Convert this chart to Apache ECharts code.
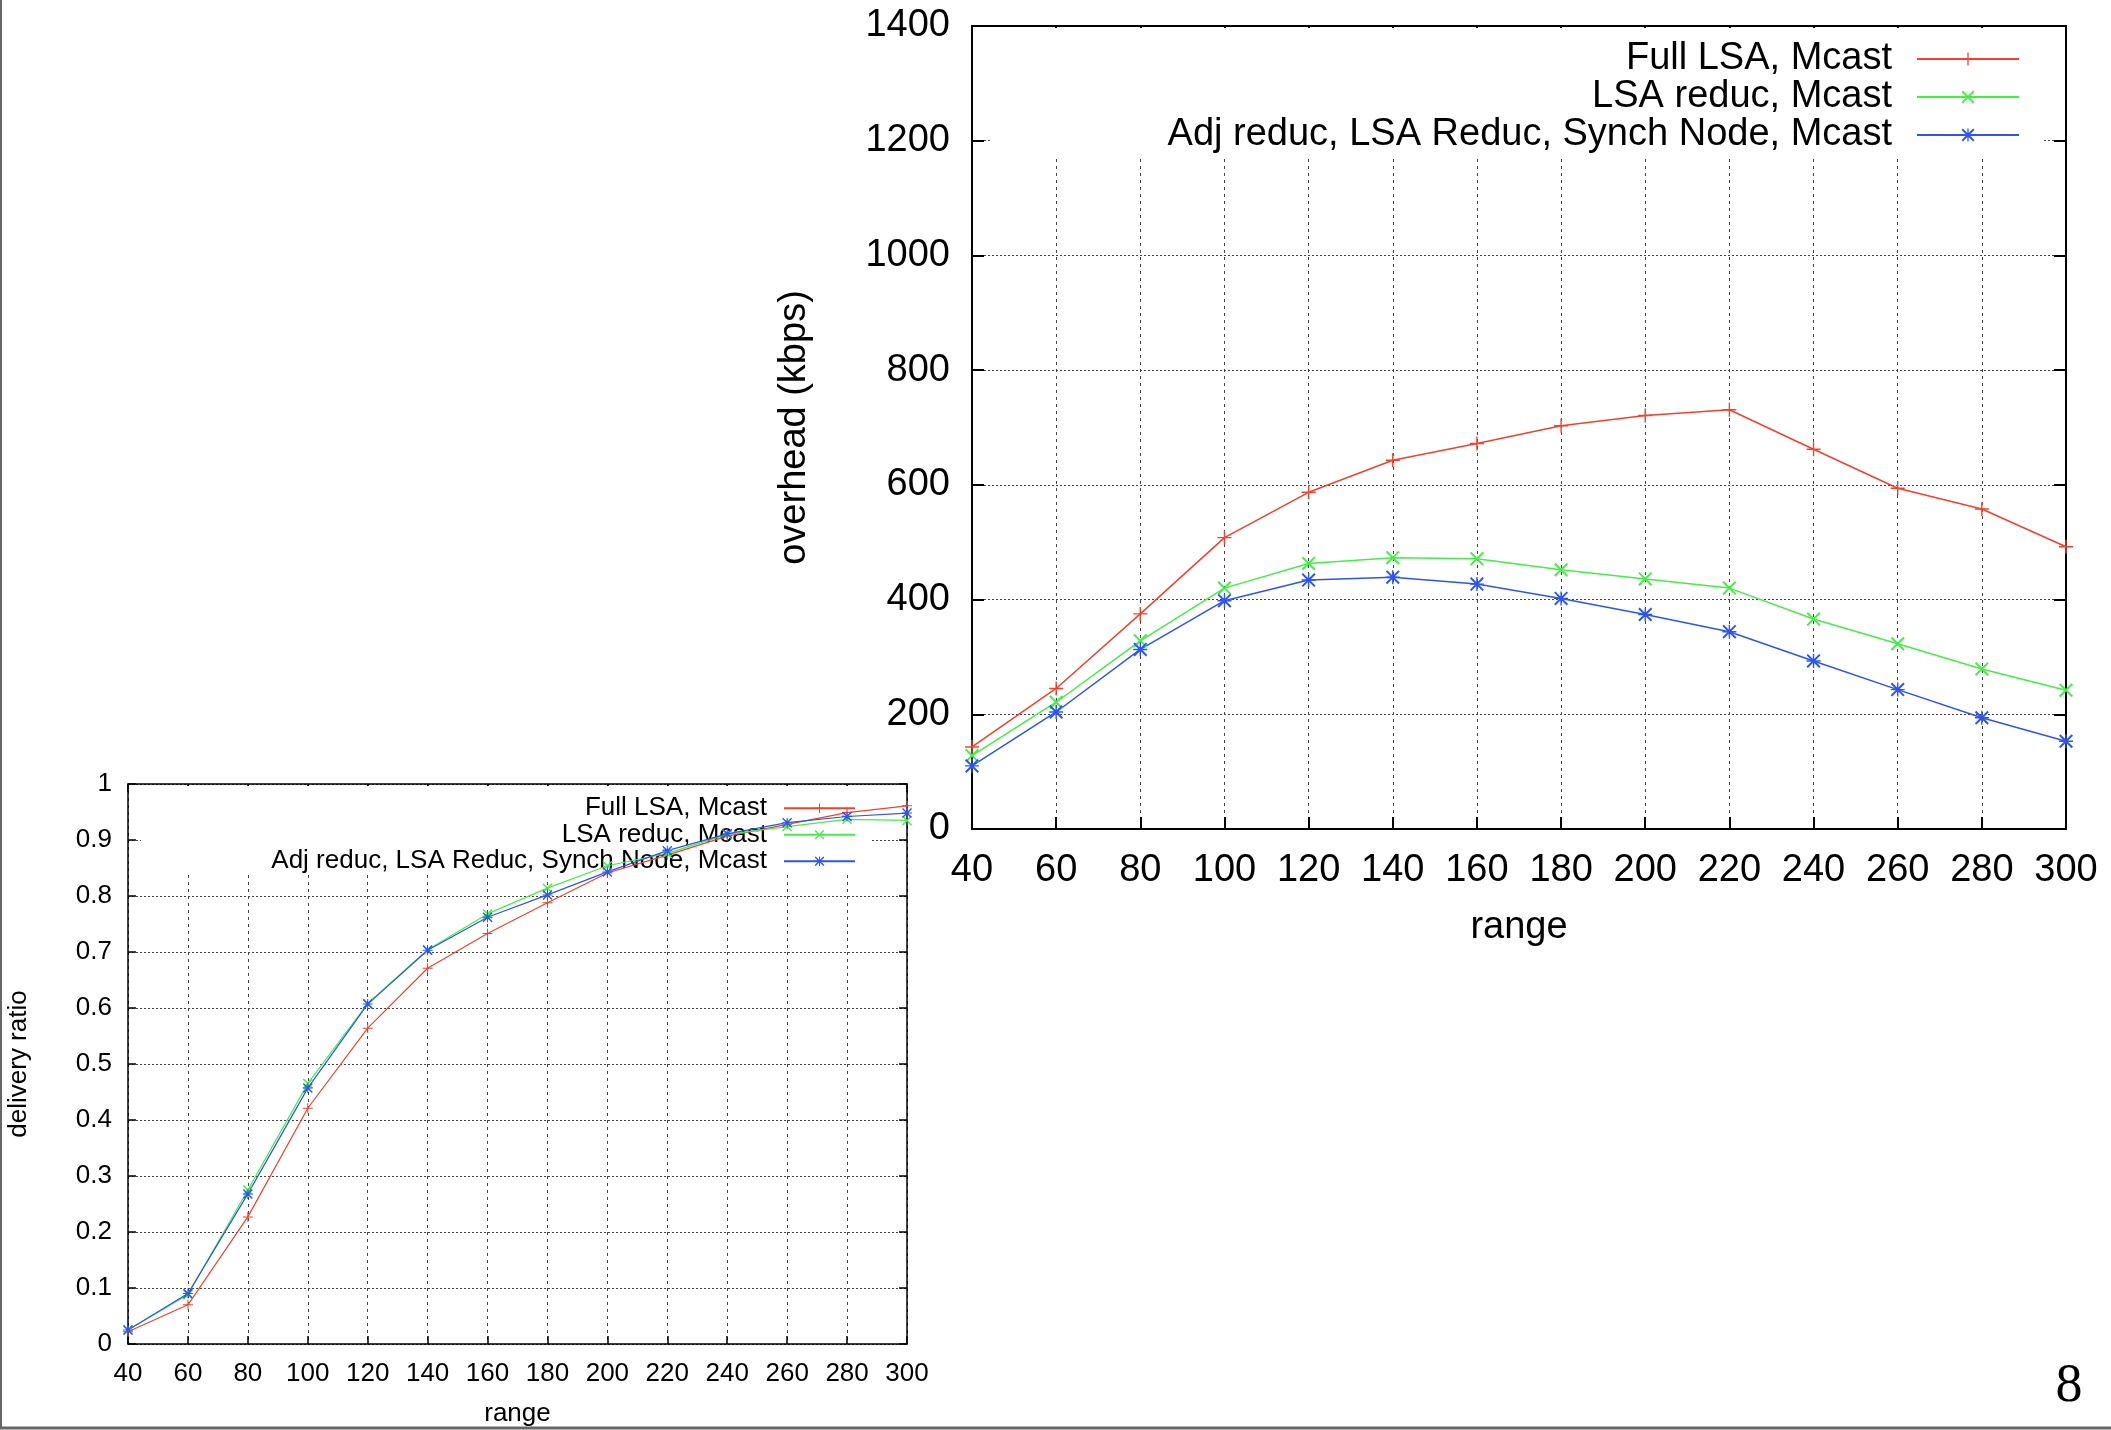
<!DOCTYPE html>
<html>
<head>
<meta charset="utf-8">
<script src="https://cdn.jsdelivr.net/npm/echarts@6/dist/echarts.min.js"></script>
<style>
html,body{margin:0;padding:0;background:#fff;}
#c{width:2111px;height:1430px;}
</style>
</head>
<body>
<div id="c"></div>
<script>
// ---------- data ----------
var ranges = [40, 60, 80, 100, 120, 140, 160, 180, 200, 220, 240, 260, 280, 300];
var seriesNames = ['Full LSA, Mcast', 'LSA reduc, Mcast', 'Adj reduc, LSA Reduc, Synch Node, Mcast'];

// overhead (kbps) - large chart
var ovFull = [143, 245, 375, 508, 587, 643, 672, 703, 721, 731, 662, 594, 558, 492];
var ovLsaReduc = [128, 221, 328, 420, 463, 473, 471, 452, 436, 420, 366, 323, 279, 242];
var ovAdjReduc = [110, 204, 313, 398, 434, 439, 427, 402, 374, 344, 293, 243, 194, 153];

// delivery ratio - small chart
var drFull = [0.022, 0.070, 0.227, 0.421, 0.564, 0.671, 0.733, 0.788, 0.841, 0.873, 0.907, 0.928, 0.949, 0.961];
var drLsaReduc = [0.025, 0.088, 0.275, 0.465, 0.608, 0.704, 0.768, 0.814, 0.854, 0.876, 0.910, 0.924, 0.937, 0.935];
var drAdjReduc = [0.025, 0.090, 0.268, 0.457, 0.607, 0.703, 0.762, 0.802, 0.843, 0.881, 0.911, 0.931, 0.942, 0.948];

var ovTicks = [0, 200, 400, 600, 800, 1000, 1200, 1400];
var drTicks = ['0', '0.1', '0.2', '0.3', '0.4', '0.5', '0.6', '0.7', '0.8', '0.9', '1'];

// ---------- styling ----------
var colors = ['#f5402c', '#44ee44', '#2b55f5'];
var PLUS = 'path://M4.5,0h1v4.5h4.5v1h-4.5v4.5h-1v-4.5h-4.5v-1h4.5z';
var CROSS = 'path://M0,1L1,0L10,9L9,10Z M9,0L10,1L1,10L0,9Z';
var STAR = 'path://M4.5,0h1v4.5h4.5v1h-4.5v4.5h-1v-4.5h-4.5v-1h4.5z M0,1L1,0L10,9L9,10Z M9,0L10,1L1,10L0,9Z';
var symbols = [PLUS, CROSS, STAR];
var FONT = '"Liberation Sans", Arial, Helvetica, sans-serif';

function pairs(ys) { return ranges.map(function (x, i) { return [x, ys[i]]; }); }

function mkSeries(data, idx, gridIdx, symSize, lw) {
  return {
    name: seriesNames[idx],
    type: 'line',
    xAxisIndex: gridIdx * 2,
    yAxisIndex: gridIdx * 2,
    data: pairs(data),
    symbol: symbols[idx],
    symbolSize: symSize,
    showSymbol: true,
    z: 3,
    lineStyle: { color: colors[idx], width: lw },
    itemStyle: { color: colors[idx] },
    emphasis: { disabled: true },
    animation: false
  };
}

function xAxes(gridIdx, fs, margin, tickLen, nameGap, axisW) {
  return [{
    type: 'value', gridIndex: gridIdx, min: 40, max: 300, interval: 20,
    name: 'range', nameLocation: 'middle', nameGap: nameGap,
    nameTextStyle: { fontFamily: FONT, fontSize: fs, color: '#000' },
    axisLine: { show: true, onZero: false, lineStyle: { color: '#000', width: axisW } },
    axisTick: { show: true, inside: true, length: tickLen, lineStyle: { color: '#000', width: axisW } },
    axisLabel: { fontFamily: FONT, fontSize: fs, color: '#000', margin: margin },
    splitLine: { show: true, lineStyle: { color: '#444', width: 1, type: [3, 4] } }
  }, {
    type: 'value', gridIndex: gridIdx, min: 40, max: 300, interval: 20, position: 'top',
    axisLine: { show: true, onZero: false, lineStyle: { color: '#000', width: axisW } },
    axisTick: { show: true, inside: true, length: tickLen, lineStyle: { color: '#000', width: axisW } },
    axisLabel: { show: false }, splitLine: { show: false }
  }];
}

var option = {
  backgroundColor: '#fff',
  animation: false,
  grid: [
    { left: 972, right: 45, top: 26, bottom: 601 },
    { left: 128, right: 1204, top: 784, bottom: 86 }
  ],
  xAxis: [].concat(xAxes(0, 38, 23, 12, 80, 2), xAxes(1, 26, 17, 8, 57, 1.5)),
  yAxis: [
    {
      type: 'value', gridIndex: 0, min: 0, max: 1400, interval: 200,
      name: 'overhead (kbps)', nameLocation: 'middle', nameGap: 158, nameRotate: 90,
      nameTextStyle: { fontFamily: FONT, fontSize: 38, color: '#000' },
      axisLine: { show: true, onZero: false, lineStyle: { color: '#000', width: 2 } },
      axisTick: { show: true, inside: true, length: 12, lineStyle: { color: '#000', width: 2 } },
      axisLabel: { fontFamily: FONT, fontSize: 38, color: '#000', margin: 22,
        formatter: function (v) { return ovTicks.indexOf(v) >= 0 ? String(v) : ''; } },
      splitLine: { show: true, lineStyle: { color: '#444', width: 1, type: [2, 2] } }
    },
    {
      type: 'value', gridIndex: 0, min: 0, max: 1400, interval: 200, position: 'right',
      axisLine: { show: true, onZero: false, lineStyle: { color: '#000', width: 2 } },
      axisTick: { show: true, inside: true, length: 12, lineStyle: { color: '#000', width: 2 } },
      axisLabel: { show: false }, splitLine: { show: false }
    },
    {
      type: 'value', gridIndex: 1, min: 0, max: 1, interval: 0.1,
      name: 'delivery ratio', nameLocation: 'middle', nameGap: 96, nameRotate: 90,
      nameTextStyle: { fontFamily: FONT, fontSize: 26, color: '#000' },
      axisLine: { show: true, onZero: false, lineStyle: { color: '#000', width: 1.5 } },
      axisTick: { show: true, inside: true, length: 8, lineStyle: { color: '#000', width: 1.5 } },
      axisLabel: { fontFamily: FONT, fontSize: 26, color: '#000', margin: 16,
        formatter: function (v) { return drTicks[Math.round(v * 10)]; } },
      splitLine: { show: true, lineStyle: { color: '#444', width: 1, type: [2, 2] } }
    },
    {
      type: 'value', gridIndex: 1, min: 0, max: 1, interval: 0.1, position: 'right',
      axisLine: { show: true, onZero: false, lineStyle: { color: '#000', width: 1.5 } },
      axisTick: { show: true, inside: true, length: 8, lineStyle: { color: '#000', width: 1.5 } },
      axisLabel: { show: false }, splitLine: { show: false }
    }
  ],
  legend: [
    {
      orient: 'vertical', align: 'right', right: 86, top: 35, z: 2,
      itemWidth: 102, itemHeight: 16, itemGap: 0,
      data: seriesNames,
      textStyle: { fontFamily: FONT, fontSize: 38, color: '#000', lineHeight: 37, padding: [0, 20, 0, 0] },
      selectedMode: false
    },
    {
      orient: 'vertical', align: 'right', right: 1250, top: 790, z: 2,
      itemWidth: 71, itemHeight: 12, itemGap: 0,
      data: seriesNames,
      textStyle: { fontFamily: FONT, fontSize: 26, color: '#000', lineHeight: 26.5, padding: [0, 12, 0, 0] },
      selectedMode: false
    }
  ],
  graphic: [
    { type: 'rect', z: 1, shape: { x: 992, y: 28, width: 1050, height: 127 }, style: { fill: '#fff' } },
    { type: 'rect', z: 1, shape: { x: 141, y: 786, width: 731, height: 87 }, style: { fill: '#fff' } },
    { type: 'line', z: 10, shape: { x1: 1, y1: 0, x2: 1, y2: 1428 }, style: { stroke: '#666', lineWidth: 2 } },
    { type: 'line', z: 10, shape: { x1: 0, y1: 1428, x2: 2111, y2: 1428 }, style: { stroke: '#666', lineWidth: 3 } },
    { type: 'text', z: 10, style: { text: '8', x: 2069, y: 1387, textAlign: 'center', textVerticalAlign: 'middle',
      font: '54px "Liberation Serif", "Times New Roman", serif', fill: '#000' } }
  ],
  series: [
    mkSeries(ovFull, 0, 0, 14, 1.5),
    mkSeries(ovLsaReduc, 1, 0, 14, 1.5),
    mkSeries(ovAdjReduc, 2, 0, 14, 1.5),
    mkSeries(drFull, 0, 1, 10, 1.2),
    mkSeries(drLsaReduc, 1, 1, 10, 1.2),
    mkSeries(drAdjReduc, 2, 1, 10, 1.2)
  ]
};

var chart = echarts.init(document.getElementById('c'), null, { renderer: 'canvas' });
chart.setOption(option);
</script>
</body>
</html>
